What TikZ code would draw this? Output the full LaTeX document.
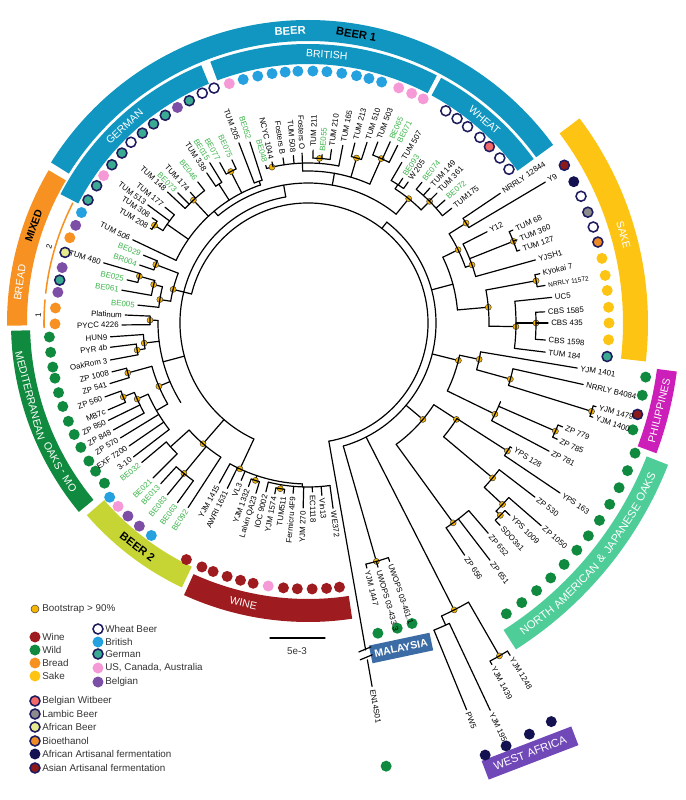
\documentclass[tikz,border=0pt]{standalone}
\usepackage{fontspec}
\setmainfont{Liberation Sans}
\usetikzlibrary{calc}
\definecolor{beerblue}{RGB}{17,150,193}
\definecolor{winered}{RGB}{158,27,31}
\definecolor{wildgreen}{RGB}{16,138,62}
\definecolor{breadorange}{RGB}{247,146,34}
\definecolor{sakeyellow}{RGB}{253,196,20}
\definecolor{ringnavy}{RGB}{30,27,94}
\definecolor{britblue}{RGB}{38,161,224}
\definecolor{germteal}{RGB}{58,170,146}
\definecolor{uspink}{RGB}{245,154,214}
\definecolor{belgpurple}{RGB}{124,78,165}
\definecolor{witred}{RGB}{240,104,104}
\definecolor{lambgrey}{RGB}{140,140,140}
\definecolor{afbeeryel}{RGB}{230,234,140}
\definecolor{bioorange}{RGB}{236,138,37}
\definecolor{afartnavy}{RGB}{20,18,80}
\definecolor{asartred}{RGB}{140,26,26}
\definecolor{beertwo}{RGB}{198,213,52}
\definecolor{malblue}{RGB}{60,108,165}
\definecolor{wapurple}{RGB}{112,72,184}
\definecolor{naoak}{RGB}{78,205,152}
\definecolor{philmag}{RGB}{204,30,184}
\definecolor{strgreen}{RGB}{60,180,75}
\definecolor{bsfill}{RGB}{245,180,0}
\tikzset{
  lab/.style={font=\fontsize{5.6}{6.5}\selectfont, inner sep=0.5pt},
  bandtxt/.style={font=\fontsize{7.5}{8}\selectfont, text=white, inner sep=0pt},
  bandbold/.style={font=\fontsize{8}{9}\selectfont\bfseries, inner sep=0pt},
  leg/.style={anchor=west, font=\fontsize{7}{8}\selectfont, text=black!80, inner sep=0.5pt},
  bsdot/.style={fill=bsfill, draw=black!75, line width=0.35pt},
  cwine/.style={fill=winered, draw=none},
  cwild/.style={fill=wildgreen, draw=none},
  cbread/.style={fill=breadorange, draw=none},
  csake/.style={fill=sakeyellow, draw=none},
  cbrit/.style={fill=britblue, draw=none},
  cus/.style={fill=uspink, draw=none},
  cbelg/.style={fill=belgpurple, draw=none},
  cafart/.style={fill=afartnavy, draw=none},
  cwheat/.style={fill=white, draw=ringnavy, line width=1.1pt},
  cgerm/.style={fill=germteal, draw=ringnavy, line width=1.1pt},
  cwit/.style={fill=witred, draw=ringnavy, line width=1.1pt},
  clamb/.style={fill=lambgrey, draw=ringnavy, line width=1.1pt},
  cafbeer/.style={fill=afbeeryel, draw=ringnavy, line width=1.1pt},
  cbio/.style={fill=bioorange, draw=ringnavy, line width=1.1pt},
  casart/.style={fill=asartred, draw=ringnavy, line width=1.1pt},
  boxlab/.style={text=white, font=\fontsize{7.5}{8}\selectfont\bfseries, inner sep=0pt, minimum height=0.45cm}
}
\def\tarc(#1:#2:#3){\draw (#1:#3) arc (#1:#2:#3);}
\def\tstem(#1:#2:#3){\draw (#1:#2) -- (#1:#3);}
\def\tboot(#1:#2){\draw[bsdot] (#1:#2) circle (3);}
\def\tband[#1](#2:#3:#4:#5){\fill[#1] (#2:#4) arc (#2:#3:#4) -- (#3:#5) arc (#3:#2:#5) -- cycle;}
\newcounter{lf}
\newcommand\tleaf[5][black]{%
  \stepcounter{lf}%
  \draw (#2:#3) -- (#2:#4);
  \pgfmathsetmacro\lcos{cos(#2)}%
  \ifdim\lcos pt<0pt
    \node[lab,text=#1,anchor=east,rotate=#2+180] (lf\thelf) at ({#2}:{#4+2}) {#5};
  \else
    \node[lab,text=#1,anchor=west,rotate=#2] (lf\thelf) at ({#2}:{#4+2}) {#5};
  \fi}

\begin{document}
\begin{tikzpicture}[scale=0.025, line width=0.85pt, line cap=round]
\useasboundingbox (-308,-477) rectangle (378,323);
%%%%% START %%%%%

% outer bands
\tband[beerblue](36:148:282:303)
\tband[beerblue](36:61.5:259:279)
\tband[beerblue](62.5:110.5:259:279)
\tband[beerblue](112.5:152.5:259:279)
\tband[breadorange](149.5:180.5:281:301)
\tband[wildgreen](181.5:219.5:278:297)
\tband[beertwo](221:244.5:270:293)
\tband[winered](245.5:278.5:276:299)
\tband[naoak](-57.5:-21.5:364:387)
\tband[philmag](-20.5:-7.5:352:372)
\tband[sakeyellow](-6.5:37:315:340)
\draw[breadorange, line width=1.1pt] (153:264) arc (153:173.5:264);
\draw[breadorange, line width=1.1pt] (175:264) arc (175:181:264);

\node[bandbold, text=white, rotate=3.5] (beerA) at (93.5:292.5) {BEER};
\node[bandbold, text=black, rotate=-9.5] (beerB) at (80.5:292.5) {BEER 1};
\node[bandtxt, rotate=-4] (brit) at (86:269) {BRITISH};
\node[bandtxt, rotate=43] (germ) at (133:269) {GERMAN};
\node[bandtxt, rotate=-41] (wheat) at (49:269) {WHEAT};
\node[bandbold, font=\fontsize{7.5}{8}\selectfont\bfseries, text=black, rotate=70.5] (mixed) at (160.5:291) {MIXED};
\node[bandtxt, rotate=82] (bread) at (172:291) {BREAD};
\node[lab, rotate=73.5] (two) at (163.5:270) {2};
\node[lab, rotate=88.3] (one) at (178.3:270) {1};
\node[bandtxt, rotate=284.7] (medA) at (194.7:287.5) {MEDITERRANEAN};
\node[bandtxt, rotate=297.5] (medB) at (207.5:287.5) {OAKS};
\node[bandtxt, rotate=301.3] (medC) at (211.3:287.5) {-};
\node[bandtxt, rotate=304] (medD) at (214:287.5) {MO};
\node[bandbold, text=black, rotate=322.7] (beer2) at (232.7:281.5) {BEER 2};
\node[bandtxt, rotate=347] (wine) at (257:287.5) {WINE};
\node[bandtxt, rotate=-74.4] (sake) at (15.6:327.5) {SAKE};
\node[bandtxt, rotate=76] (phil) at (-14:362) {PHILIPPINES};
\node[bandtxt, font=\fontsize{8}{9}\selectfont, rotate=37.6] (naA) at (-52.4:375.5) {NORTH};
\node[bandtxt, font=\fontsize{8}{9}\selectfont, rotate=45.6] (naB) at (-44.4:375.5) {AMERICAN};
\node[bandtxt, font=\fontsize{8}{9}\selectfont, rotate=51.2] (naC) at (-38.8:375.5) {\&};
\node[bandtxt, font=\fontsize{8}{9}\selectfont, rotate=56.8] (naD) at (-33.2:375.5) {JAPANESE};
\node[bandtxt, font=\fontsize{8}{9}\selectfont, rotate=64.1] (naE) at (-25.9:375.5) {OAKS};
\node[boxlab, fill=malblue, minimum width=1.55cm, rotate=12] (mal) at (93,-325) {MALAYSIA};
\node[boxlab, fill=wapurple, minimum width=2.4cm, minimum height=0.5cm, font=\fontsize{8}{9}\selectfont, rotate=21] (wa) at (222,-430) {WEST AFRICA};

% isolation dots
\foreach \a in {37.4,40.7,47.2,50.9,53.9,57.0,111.8,114.7,134.4} \draw[cwheat] (\a:253) circle (5);
\draw[cwit] (44.2:253) circle (5);
\foreach \a in {62.8,65.7,68.9,108.2,144.2} \fill[cus] (\a:252) circle (5.5);
\foreach \a in {73,76,78.9,82.3,85.7,88.9,92.3,95.2,98.2,101.5,104.9,154} \fill[cbrit] (\a:252) circle (5.5);
\foreach \a in {118.1,124.5,127.8,131.1,137.6,141.1,147,150.8,170.2} \draw[cgerm] (\a:252) circle (5);
\foreach \a in {121.2,157.2,167.3,173} \fill[cbelg] (\a:252) circle (5.5);
\foreach \a in {160.3,176.6,180.2} \fill[cbread] (\a:253) circle (5.5);
\draw[cafbeer] (163.8:253) circle (5);
\foreach \a in {183.1,186.5,189.8,192.3,195.6,198.8,202.3,205.5,208.7,212.2,214.9,218.2} \fill[cwild] (\a:259) circle (5.5);
\foreach \a in {221.3,233.6} \fill[cbrit] (\a:264) circle (5.5);
\fill[cus] (224:264) circle (5.5);
\foreach \a in {227,230.3} \fill[cbelg] (\a:264) circle (5.5);
\foreach \a in {242.8,246.5,249.1,252.3,255.3,258.1,264.7,267.7,270.9,274,276.8} \fill[cwine] (\a:266) circle (5.5);
\fill[cus] (261.4:266) circle (5.5);
\foreach \a in {282.7,286.3,289.1} \fill[cwild] (\a:318) circle (5.5);
\fill[cwild] (-80:450) circle (5.5);
\foreach \a in {292.3,295.1,298.3,301.4} \fill[cafart] (\a:467) circle (5.5);
\foreach \a in {-55.7,-52.6,-49.5,-46.4,-43.3,-40.2,-37.2,-34.1,-31,-27.9,-24.8,-21.7} \fill[cwild] (\a:352) circle (5.5);
\foreach \a in {-18.2,-12.2,-9.1} \fill[cwild] (\a:342) circle (5.5);
\draw[casart] (-15.5:342) circle (5);
\draw[cgerm] (-6.4:301) circle (5);
\foreach \a in {-3.2,0,3,6.2,9.1,12.4} \fill[csake] (\a:301) circle (5.5);
\draw[cbio] (15.6:301) circle (5);
\draw[cwheat] (18.6:301) circle (5);
\draw[clamb] (21.6:301) circle (5);
\draw[cwheat] (24.9:301) circle (5);
\fill[cafart] (28:301) circle (5.5);
\draw[casart] (31.6:301) circle (5);

% backbone
\tarc(166:-80:120)
\tstem(166:120:128)
\tarc(100:245:128)
\tstem(52:120:128)
\tarc(52:-74:128)

% EN14S01 with break
\draw (-80:120) -- (-80:332);
\draw ($(-80:333)+(-7,-1)$) -- ($(-80:333)+(5,4)$);
\draw ($(-80:341)+(-7,-1)$) -- ($(-80:341)+(5,4)$);
\tleaf{-80}{342}{369}{EN14S01}

% beer 1 : wheat
\tstem(51:140:160) \tboot(51:160)
\tarc(45:57:160)
\tstem(45:160:172) \tboot(45:172)
\tarc(38.6:51:172)
\tleaf{38.6}{172}{184}{TUM175}
\tleaf[strgreen]{41.9}{172}{184}{BE072}
\tleaf{45.2}{172}{183}{TUM 361}
\tleaf{47.9}{172}{182}{TUM 149}
\tleaf[strgreen]{51}{172}{181}{BE074}
\tstem(57:160:165)
\tarc(54.6:59.7:165)
\tleaf{54.6}{165}{173}{W 205}
\tleaf[strgreen]{56.8}{165}{173}{BE093}
\tleaf{59.7}{165}{186}{TUM 507}

% beer 1 : british
\tstem(100:128:140)
\tarc(51:130:140)
\tstem(80:140:152)
\tarc(66:92:152)
\tstem(66:152:180) \tboot(66:180)
\tarc(63.2:68.9:180)
\tleaf[strgreen]{63.2}{180}{199}{BE071}
\tleaf[strgreen]{65.6}{180}{199}{BE065}
\tleaf{68.9}{180}{194}{TUM 503}
\tstem(73.6:152:172) \tboot(73.6:172)
\tarc(71.9:75.4:172)
\tleaf{71.9}{172}{190}{TUM 510}
\tleaf{75.4}{172}{186}{TUM 213}
\tstem(92:152:160)
\tarc(78.9:105:160) \tboot(103:160)
\tleaf{78.9}{160}{181}{TUM 165}
\tstem(86:160:165) \tboot(86:165)
\tarc(82.3:88.3:165)
\tleaf{82.3}{165}{175}{TUM 210}
\tleaf[strgreen]{85.2}{165}{169}{BE055}
\tleaf{88.3}{165}{173}{TUM 211}
\tleaf{92}{160}{170}{Fosters O}
\tleaf{95}{160}{168}{TUM 508}
\tleaf{98.6}{160}{167}{Fosters B}
\tleaf{102.6}{160}{165}{NCYC 1044}
\tleaf[strgreen]{105}{160}{163}{BE048}

% beer 1 : german
\tstem(130:140:146)
\tarc(109:154.6:146)
\tstem(109:146:150)
\tarc(107.8:111:150)
\tleaf[strgreen]{107.8}{150}{190}{BE052}
\tleaf{111}{150}{193}{TUM 205}
\tstem(117:146:170) \tboot(117:170)
\tarc(115:118.8:170)
\tleaf[strgreen]{115}{170}{180}{BE075}
\tleaf[strgreen]{118.8}{170}{183}{BE077}
\tstem(122.7:146:165)
\tarc(121.5:124:165)
\tleaf[strgreen]{121.5}{165}{188}{BE015}
\tleaf{124}{165}{181}{TUM 338}
\tstem(133:146:168) \tboot(133:168)
\tarc(128:137:168)
\tleaf[strgreen]{128}{168}{179}{BE046}
\tleaf{132}{168}{176}{TUM 174}
\tleaf[strgreen]{135}{168}{184}{BE073}
\tleaf{137}{168}{192}{TUM 148}
\tstem(145:146:172)
\tarc(141:147.5:172)
\tleaf{141}{172}{184}{TUM 177}
\tleaf{143.6}{172}{199}{TUM 513}
\tstem(147.5:172:182) \tboot(147.5:182)
\tarc(146:149:182)
\tleaf{146}{182}{188}{TUM 308}
\tleaf{149}{182}{184}{TUM 208}
\tleaf{154.6}{146}{194}{TUM 506}

% mixed
\tstem(166:128:139) \tboot(166:139)
\tarc(159:171:139)
\tstem(159:139:163) \tboot(159:163)
\tarc(157.6:161:163)
\tleaf[strgreen]{157.6}{163}{178}{BE029}
\tleaf[strgreen]{161}{163}{178}{BR004}
\tstem(171:139:150) \tboot(171:150)
\tarc(166:174:150)
\tleaf[strgreen]{174}{150}{171}{BE005}
\tstem(166:150:159) \tboot(166:159)
\tarc(164.5:170:159)
\tleaf[strgreen]{170}{159}{189}{BE061}
\tstem(164.5:159:175) \tboot(164.5:175)
\tarc(163.6:166.6:175)
\tleaf{163.6}{175}{213}{TUM 480}
\tleaf[strgreen]{166.6}{175}{186}{BE025}

% mediterranean oaks
\tstem(195:128:150)
\tarc(179:212:150)
\tstem(179:150:158) \tboot(179:158)
\tarc(177.5:180.6:158)
\tleaf{177.5}{158}{183}{Platinum}
\tleaf{180.6}{158}{186}{PYCC 4226}
\tstem(187:150:165) \tboot(187:165)
\tarc(184:189:165)
\tleaf{184}{165}{198}{HUN9}
\tstem(189:165:173) \tboot(189:173)
\tarc(187:190.6:173)
\tleaf{187}{173}{199}{PYR 4b}
\tleaf{190.6}{173}{201}{OakRom 3}
\tstem(203:150:162) \tboot(203:162)
\tarc(195.5:210:162)
\tstem(195.5:162:187) \tboot(195.5:187)
\tarc(194:197:187)
\tleaf{194}{187}{202}{ZP 1008}
\tleaf{197}{187}{207}{ZP 541}
\tstem(210:162:175)
\tarc(204:217.5:175)
\tstem(204:175:187) \tboot(204:187)
\tarc(201.8:208.8:187)
\tstem(201.8:187:199) \tboot(201.8:199)
\tarc(200:203.5:199)
\tleaf{200}{199}{216}{ZP 560}
\tleaf{203.5}{199}{218}{MB7c}
\tleaf{206}{187}{222}{ZP 850}
\tleaf{208.8}{187}{222}{ZP 848}
\tleaf{211.5}{175}{220}{ZP 570}
\tleaf{214.5}{175}{217}{EXF 7200}
\tleaf{217.5}{175}{220}{3-10}

% beer 2
\tstem(229:128:160) \tboot(229:160)
\tarc(222:237:160)
\tstem(222:160:185)
\tarc(220:225:185)
\tleaf[strgreen]{220}{185}{217}{BE032}
\tleaf[strgreen]{225}{185}{219}{BE021}
\tstem(230.5:160:195) \tboot(230.5:195)
\tarc(227.5:234:195)
\tleaf[strgreen]{227.5}{195}{218}{BE013}
\tleaf[strgreen]{230.7}{195}{222}{BE083}
\tleaf[strgreen]{234}{195}{222}{BE063}
\tleaf[strgreen]{237}{160}{220}{BE092}

% wine
\tstem(245:128:161) \tboot(245:161)
\tarc(241:268:161)
\tleaf{241}{161}{183}{YJM 1415}
\tleaf{244}{161}{184}{AWRI 1631}
\tleaf{247}{161}{171}{VL3}
\tstem(251.5:161:166) \tboot(251.5:166)
\tarc(250:253:166)
\tleaf{250}{166}{174}{YJM 1332}
\tleaf{253}{166}{178}{Lalvin QA23}
\tstem(268:161:164)
\tarc(256:277.7:164)
\tleaf{256}{164}{174}{IOC 9002}
\tstem(260.5:164:168) \tboot(260.5:168)
\tarc(259:262:168)
\tleaf{259}{168}{174}{YJM 1574}
\tleaf{262}{168}{172}{TUM511}
\tleaf{265}{164}{171}{Fermicru 4F9}
\tleaf{268.5}{164}{185}{YJM 270}
\tleaf{271.5}{164}{169}{EC1118}
\tleaf{274.6}{164}{173}{Vin13}
\tleaf{277.7}{164}{187}{WE372}

% sake
\tstem(15:128:150)
\tarc(5:26:150)
\tstem(26:150:167) \tboot(26:167)
\tarc(19.5:32.3:167)
\tstem(32.3:167:187) \tboot(32.3:187)
\tarc(30.7:34:187)
\tleaf{34}{187}{232}{NRRLY 12844}
\tleaf{30.7}{187}{276}{Y9}
\tstem(19.5:167:174) \tboot(19.5:174)
\tarc(15.5:27:174)
\tleaf{27}{174}{201}{Y12}
\tstem(21.7:174:221) \tboot(21.7:221)
\tarc(19:24.4:221)
\tleaf{24.4}{221}{225}{TUM 68}
\tleaf{21.7}{221}{225}{TUM 360}
\tleaf{19}{221}{224}{TUM 127}
\tleaf{15.5}{174}{236}{YJSH1}
\tstem(5:150:181) \tboot(5:181)
\tarc(-1:10.5:181)
\tstem(10.5:181:232) \tboot(10.5:232)
\tarc(9:12:232)
\tleaf{12}{232}{237}{Kyokai 7}
\tleaf{9}{232}{240}{\fontsize{4.6}{5}\selectfont NRRLY 11572}
\tstem(-1:181:208) \tboot(-1:208)
\tarc(-7:6:208)
\tleaf{6}{208}{245}{UC5}
\tstem(0:208:228) \tboot(0:228)
\tarc(-4.1:2.7:228)
\tleaf{2.7}{228}{237}{CBS 1585}
\tleaf{0}{228}{240}{CBS 435}
\tleaf{-4.1}{228}{238}{CBS 1598}
\tleaf{-7}{208}{239}{TUM 184}

% philippines
\tstem(-14:128:155) \tboot(-14:155)
\tarc(-12:-26:155)
\tstem(-12:155:175) \tboot(-12:175)
\tarc(-9.5:-15.5:175)
\tleaf{-9.5}{175}{273}{YJM 1401}
\tstem(-15.5:175:210) \tboot(-15.5:210)
\tarc(-12.6:-17.3:210)
\tleaf{-12.6}{210}{282}{NRRLY B4084}
\tstem(-17.3:210:297) \tboot(-17.3:297)
\tarc(-16.2:-18.3:297)
\tleaf{-16.2}{297}{300}{YJM 1479}
\tleaf{-18.3}{297}{300}{YJM 1400}

% north american and japanese oaks
\tstem(-26:155:208) \tboot(-26:208)
\tarc(-22.2:-28:208)
\tstem(-23.6:208:270) \tboot(-23.6:270)
\tarc(-22.2:-25:270)
\tleaf{-22.2}{270}{275}{ZP 779}
\tleaf{-25}{270}{275}{ZP 785}
\tleaf{-28}{208}{273}{ZP 781}
\tstem(-40:128:150) \tboot(-40:150)
\tarc(-33:-54:150)
\tstem(-33:150:177) \tboot(-33:177)
\tarc(-32.7:-40:177)
\tstem(-32.7:177:237) \tboot(-32.7:237)
\tarc(-31.5:-34:237)
\tleaf{-31.5}{237}{239}{YPS 128}
\tleaf{-34}{237}{304}{YPS 163}
\tstem(-40:177:241) \tboot(-40:241)
\tarc(-37.5:-43:241)
\tleaf{-37.5}{241}{286}{ZP 530}
\tstem(-43:241:266) \tboot(-43:266)
\tarc(-41:-45:266)
\tleaf{-41}{266}{309}{ZP 1050}
\tstem(-45:266:272) \tboot(-45:272)
\tarc(-43.6:-46.5:272)
\tleaf{-43.6}{272}{279}{YPS 1009}
\tleaf{-46.5}{272}{279}{SDO3s1}
\tstem(-54:150:247) \tboot(-54:247)
\tarc(-49.4:-56:247)
\tleaf{-49.4}{247}{277}{ZP 652}
\tleaf{-52.5}{247}{299}{ZP 651}
\tleaf{-56}{247}{280}{ZP 656}

% west africa
\tstem(-63:128:322) \tboot(-63:322)
\tarc(-60.1:-65.5:322)
\tstem(-60.1:322:384) \tboot(-60.1:384)
\tarc(-58.7:-61.7:384)
\tleaf{-58.7}{384}{389}{YJM 1248}
\tleaf{-61.7}{384}{388}{YJM 1439}
\tstem(-65.5:322:332)
\tarc(-64.8:-67.7:332)
\tleaf{-64.8}{332}{428}{YJM 195}
\tleaf{-67.7}{332}{418}{PW5}

% malaysia
\tstem(-74:128:248) \tboot(-74:248)
\tarc(-71.1:-76.5:248)
\tleaf{-71.1}{248}{252}{UWOPS 03-461.1}
\tleaf{-74}{248}{254}{UWOPS 03-433.3}
\tleaf{-76.5}{248}{252}{YJM 1447}

% scale bar
\draw (-38,-315) -- (17,-315);
\node[leg, anchor=center] (scl) at (-11,-328) {5e-3};

% legend
\draw[bsdot] (-273,-286) circle (4);
\node[leg] (lgbs) at (-267,-286) {Bootstrap > 90\%};
\fill[cwine] (-273,-314) circle (5.5);
\node[leg] (lgwine) at (-267,-314) {Wine};
\fill[cwild] (-273,-327) circle (5.5);
\node[leg] (lgwild) at (-267,-327) {Wild};
\fill[cbread] (-273,-340) circle (5.5);
\node[leg] (lgbread) at (-267,-340) {Bread};
\fill[csake] (-273,-353) circle (5.5);
\node[leg] (lgsake) at (-267,-353) {Sake};
\draw[cwheat] (-210,-306) circle (5);
\node[leg] (lgwheat) at (-204,-306) {Wheat Beer};
\fill[cbrit] (-210,-319) circle (5.5);
\node[leg] (lgbrit) at (-204,-319) {British};
\draw[cgerm] (-210,-331) circle (5);
\node[leg] (lggerm) at (-204,-331) {German};
\fill[cus] (-210,-345) circle (5.5);
\node[leg] (lgus) at (-204,-345) {US, Canada, Australia};
\fill[cbelg] (-210,-359) circle (5.5);
\node[leg] (lgbelg) at (-204,-359) {Belgian};
\draw[cwit] (-273,-378) circle (5);
\node[leg] (lgwit) at (-267,-378) {Belgian Witbeer};
\draw[clamb] (-273,-391) circle (5);
\node[leg] (lglamb) at (-267,-391) {Lambic Beer};
\draw[cafbeer] (-273,-404) circle (5);
\node[leg] (lgafb) at (-267,-404) {African Beer};
\draw[cbio] (-273,-418) circle (5);
\node[leg] (lgbio) at (-267,-418) {Bioethanol};
\fill[cafart] (-273,-431) circle (5.5);
\node[leg] (lgafa) at (-267,-431) {African Artisanal fermentation};
\draw[casart] (-273,-445) circle (5);
\node[leg] (lgasa) at (-267,-445) {Asian Artisanal fermentation};

%%%%% END %%%%%
\end{tikzpicture}
\end{document}
